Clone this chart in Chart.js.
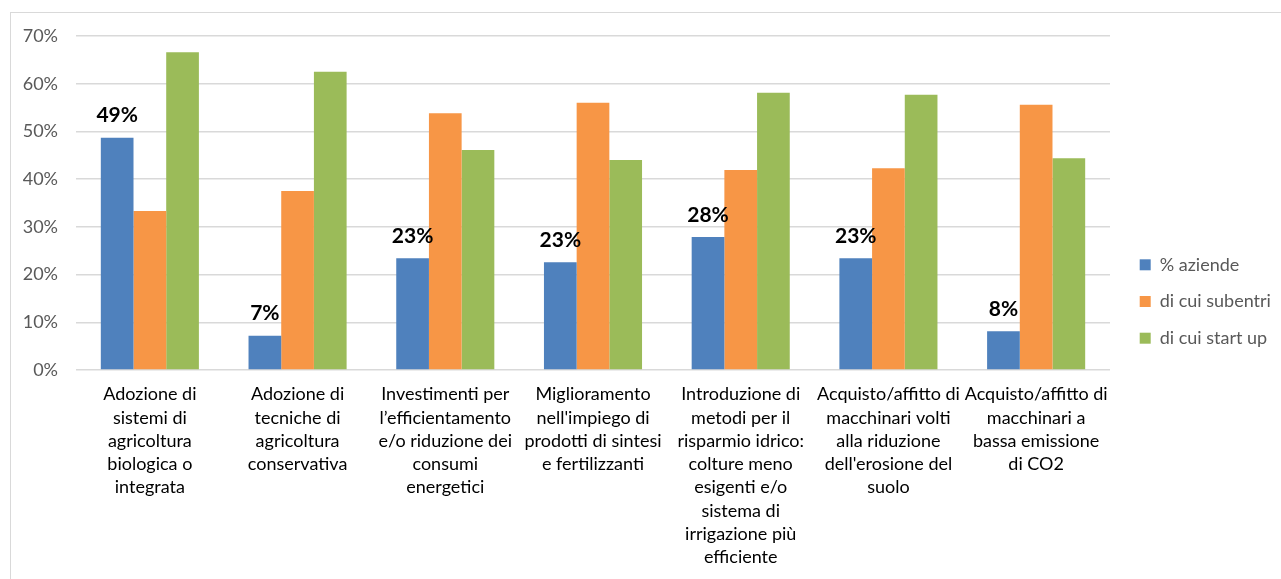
<!DOCTYPE html>
<html>
<head>
<meta charset="utf-8">
<script src="https://cdn.jsdelivr.net/npm/chart.js@4/dist/chart.umd.min.js"></script>
<style>
  html, body { margin: 0; padding: 0; background: #ffffff; overflow: hidden; }
  #frame { position: absolute; left: 10px; top: 12px; width: 3000px; height: 3000px;
           border-left: 1px solid #d9d9d9; border-top: 1px solid #d9d9d9; box-sizing: border-box; }
  #c { position: absolute; left: 0; top: 0; }
</style>
</head>
<body>
<div id="frame"></div>
<canvas id="c" width="1281" height="579"></canvas>
<script>
const categories = [
  ["Adozione di", "sistemi di", "agricoltura", "biologica o", "integrata"],
  ["Adozione di", "tecniche di", "agricoltura", "conservativa"],
  ["Investimenti per", "l\u2019efficientamento", "e/o riduzione dei", "consumi", "energetici"],
  ["Miglioramento", "nell'impiego di", "prodotti di sintesi", "e fertilizzanti"],
  ["Introduzione di", "metodi per il", "risparmio idrico:", "colture meno", "esigenti e/o", "sistema di", "irrigazione più", "efficiente"],
  ["Acquisto/affitto di", "macchinari volti", "alla riduzione", "dell'erosione del", "suolo"],
  ["Acquisto/affitto di", "macchinari a", "bassa emissione", "di CO2"]
];
const seriesNames = ["% aziende", "di cui subentri", "di cui start up"];
const aziende   = [48.7, 7.2, 23.4, 22.6, 27.9, 23.4, 8.1];
const subentri  = [33.3, 37.5, 53.8, 56.0, 41.9, 42.3, 55.6];
const startUp   = [66.6, 62.5, 46.1, 44.0, 58.1, 57.7, 44.4];
const yTicks    = [0, 10, 20, 30, 40, 50, 60, 70];

const FONT = "Lato";

const blueLabels = {
  id: 'blueLabels',
  afterDatasetsDraw(chart) {
    const ctx = chart.ctx;
    const meta = chart.getDatasetMeta(0);
    ctx.save();
    ctx.font = "bold 21px " + FONT;
    ctx.fillStyle = "#000000";
    ctx.textAlign = "center";
    ctx.textBaseline = "middle";
    meta.data.forEach((bar, i) => {
      ctx.fillText(Math.round(aziende[i]) + "%", bar.x, bar.y - 22);
    });
    ctx.restore();
  }
};

new Chart(document.getElementById('c'), {
  type: 'bar',
  data: {
    labels: categories,
    datasets: [
      { label: seriesNames[0], data: aziende,  backgroundColor: '#4f81bd' },
      { label: seriesNames[1], data: subentri, backgroundColor: '#f79646' },
      { label: seriesNames[2], data: startUp,  backgroundColor: '#9bbb59' }
    ]
  },
  options: {
    responsive: false,
    devicePixelRatio: 1,
    animation: false,
    categoryPercentage: 0.664,
    barPercentage: 1.0,
    layout: { padding: { top: 36, bottom: 12, left: 0, right: 10 } },
    plugins: {
      tooltip: { enabled: false },
      legend: {
        position: 'right',
        maxWidth: 150,
        labels: {
          boxWidth: 11,
          boxHeight: 11,
          padding: 18.7,
          color: '#595959',
          font: { family: FONT, size: 18 }
        }
      }
    },
    scales: {
      x: {
        grid: { display: false, drawTicks: false },
        border: { display: false },
        ticks: {
          color: '#000000',
          padding: 13,
          maxRotation: 0,
          autoSkip: false,
          font: { family: FONT, size: 18, lineHeight: 1.29 }
        },
        afterFit(s) { s.height = 197; }
      },
      y: {
        min: 0,
        max: 70,
        afterBuildTicks(s) { s.ticks = yTicks.map(v => ({ value: v })); },
        grid: { color: '#d9d9d9', lineWidth: 1.5, drawTicks: false },
        border: { display: false },
        ticks: {
          color: '#595959',
          padding: 18,
          font: { family: FONT, size: 18 },
          callback: v => v + '%'
        },
        afterFit(s) { s.width = 76; }
      },
      y2: {
        position: 'right',
        display: true,
        grid: { display: false, drawTicks: false },
        border: { display: false },
        ticks: { display: false },
        afterFit(s) { s.width = 11; }
      }
    }
  },
  plugins: [blueLabels]
});
</script>
</body>
</html>
